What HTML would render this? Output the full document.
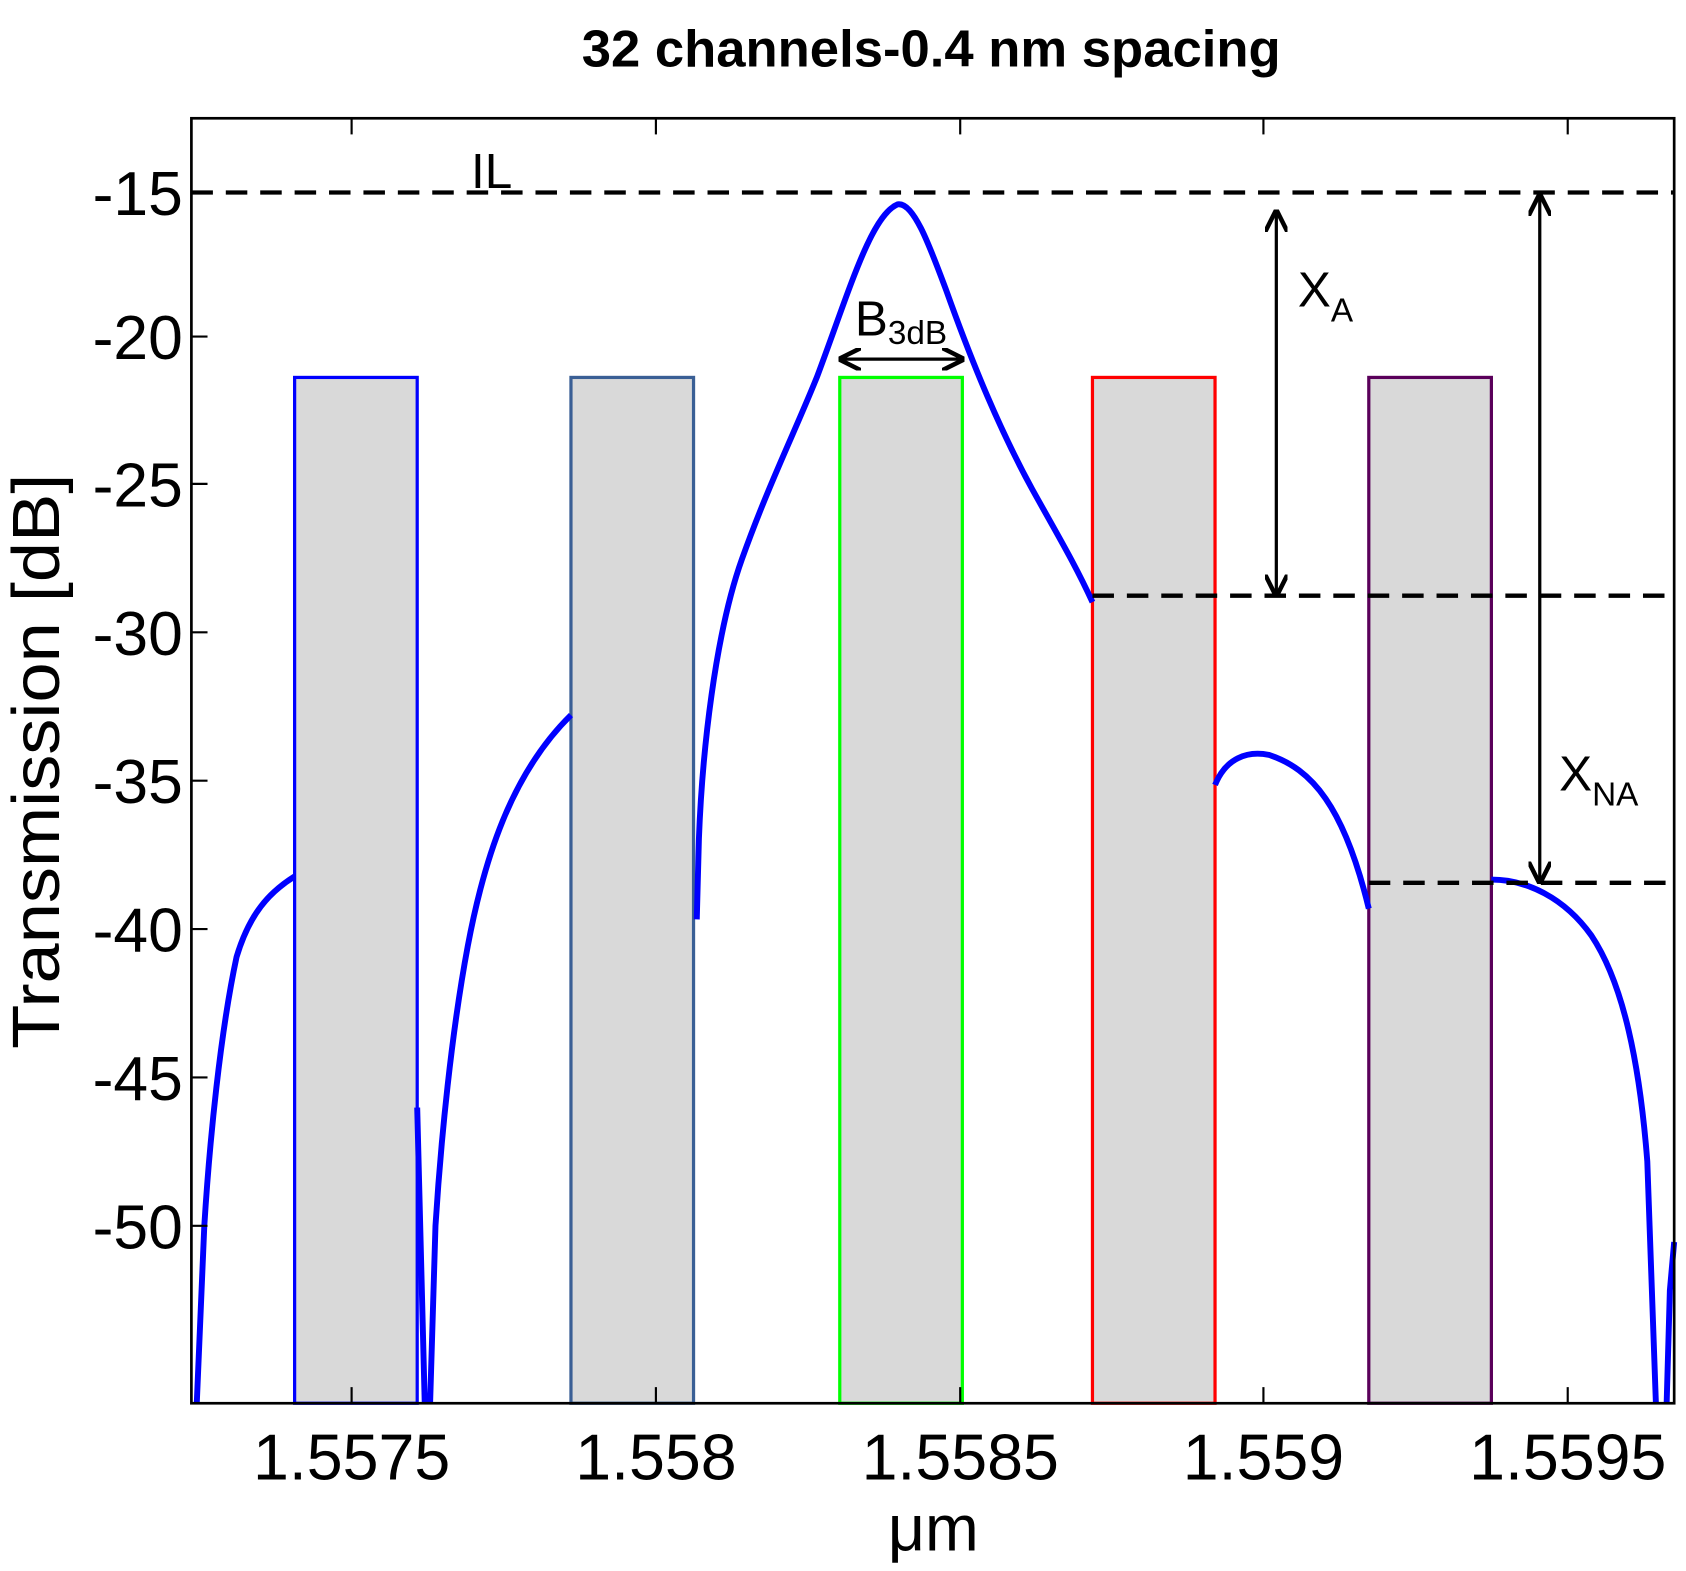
<!DOCTYPE html>
<html><head><meta charset="utf-8"><style>html,body{margin:0;padding:0;background:#fff}svg{display:block}</style></head>
<body>
<svg width="1686" height="1571" viewBox="0 0 1568 1461" preserveAspectRatio="none" xmlns="http://www.w3.org/2000/svg" font-family="Liberation Sans, sans-serif">
<defs>
<marker id="ah" viewBox="0 0 10 10" refX="9" refY="5" markerWidth="7" markerHeight="7" orient="auto-start-reverse"><path d="M0,0 L10,5 L0,10" fill="none" stroke="#000" stroke-width="2"/></marker>
</defs>
<rect width="1568" height="1461" fill="#fff"/>
<text x="866" y="62" font-size="48" font-weight="bold" text-anchor="middle" textLength="650" lengthAdjust="spacingAndGlyphs">32 channels-0.4 nm spacing</text>
<g stroke-width="3" fill="#d9d9d9">
<rect x="274" y="351" width="114" height="954" stroke="#0000ff"/>
<rect x="531" y="351" width="114" height="954" stroke="#3a5f95"/>
<rect x="781" y="351" width="114" height="954" stroke="#00ff00"/>
<rect x="1016" y="351" width="114" height="954" stroke="#ff0000"/>
<rect x="1273" y="351" width="114" height="954" stroke="#5a005a"/>
</g>
<g fill="none" stroke="#0000ff" stroke-width="5.5" stroke-linejoin="round">
<path d="M183,1305 L190,1140 C195,1060 205,960 220,890 C232,850 250,830 274,815"/>
<path d="M388,1030 L395,1305 M400,1305 L405,1140 C410,1060 420,960 435,880 C450,800 475,720 531,665"/>
<path d="M648,855 L650,780 C653,700 665,590 690,520 C715,450 740,400 760,350 C790,270 810,200 835,190 C850,188 865,230 880,270 C905,340 930,400 960,455 C985,500 1000,525 1016,560"/>
<path d="M1130,730 C1140,705 1160,698 1180,702 C1220,715 1250,750 1273,845"/>
<path d="M1387,818 C1420,818 1455,835 1480,870 C1510,915 1525,990 1532,1080 L1540,1305 M1550,1305 L1553,1200 L1557,1155"/>
</g>
<g stroke="#000" stroke-width="4" stroke-dasharray="20,12" fill="none">
<line x1="178" y1="179" x2="1557" y2="179"/>
<line x1="1016" y1="554" x2="1557" y2="554"/>
<line x1="1273" y1="821" x2="1557" y2="821"/>
</g>
<g stroke="#000" stroke-width="3" fill="none">
<line x1="1187" y1="197" x2="1187" y2="553" marker-start="url(#ah)" marker-end="url(#ah)"/>
<line x1="1432" y1="182" x2="1432" y2="820" marker-start="url(#ah)" marker-end="url(#ah)"/>
<line x1="782" y1="334" x2="895" y2="334" marker-start="url(#ah)" marker-end="url(#ah)"/>
</g>
<rect x="178" y="110" width="1379" height="1195" fill="none" stroke="#000" stroke-width="2.5"/>
<g stroke="#000" stroke-width="2">
<line x1="327" y1="1305" x2="327" y2="1290"/><line x1="610" y1="1305" x2="610" y2="1290"/><line x1="893" y1="1305" x2="893" y2="1290"/><line x1="1175" y1="1305" x2="1175" y2="1290"/><line x1="1458" y1="1305" x2="1458" y2="1290"/>
<line x1="327" y1="110" x2="327" y2="125"/><line x1="610" y1="110" x2="610" y2="125"/><line x1="893" y1="110" x2="893" y2="125"/><line x1="1175" y1="110" x2="1175" y2="125"/><line x1="1458" y1="110" x2="1458" y2="125"/>
<line x1="178" y1="179" x2="193" y2="179"/><line x1="178" y1="313" x2="193" y2="313"/><line x1="178" y1="450" x2="193" y2="450"/><line x1="178" y1="588" x2="193" y2="588"/><line x1="178" y1="726" x2="193" y2="726"/><line x1="178" y1="864" x2="193" y2="864"/><line x1="178" y1="1002" x2="193" y2="1002"/><line x1="178" y1="1140" x2="193" y2="1140"/>
</g>
<g font-size="58" text-anchor="end">
<text x="170" y="200">-15</text><text x="170" y="334">-20</text><text x="170" y="471">-25</text><text x="170" y="609">-30</text><text x="170" y="747">-35</text><text x="170" y="885">-40</text><text x="170" y="1023">-45</text><text x="170" y="1161">-50</text>
</g>
<g font-size="60" text-anchor="middle">
<text x="327" y="1376">1.5575</text><text x="610" y="1376">1.558</text><text x="893" y="1376">1.5585</text><text x="1175" y="1376">1.559</text><text x="1458" y="1376">1.5595</text>
<text x="868" y="1442">μm</text>
</g>
<text transform="translate(55,708) rotate(-90)" font-size="62" text-anchor="middle" textLength="535" lengthAdjust="spacingAndGlyphs">Transmission [dB]</text>
<text x="438" y="175" font-size="46">IL</text>
<text x="795" y="312" font-size="46">B<tspan font-size="31" dy="8">3dB</tspan></text>
<text x="1207" y="285" font-size="46">X<tspan font-size="31" dy="14">A</tspan></text>
<text x="1450" y="735" font-size="46">X<tspan font-size="31" dy="14">NA</tspan></text>
</svg>
</body></html>
